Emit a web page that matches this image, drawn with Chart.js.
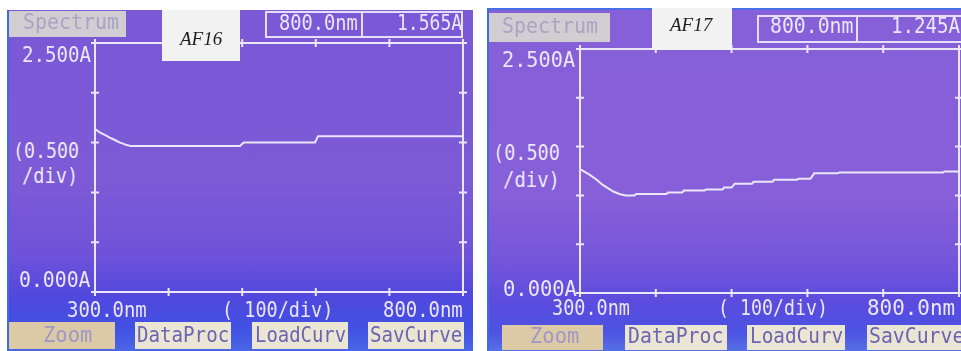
<!DOCTYPE html>
<html>
<head>
<meta charset="utf-8">
<script src="https://cdn.jsdelivr.net/npm/chart.js@4.4.1/dist/chart.umd.min.js"></script>
<style>
  html, body { margin: 0; padding: 0; background: #ffffff; width: 961px; height: 351px; overflow: hidden; position: relative; }
  .panel { position: absolute; box-sizing: border-box; border-left: 2px solid #3f6ae6; }
  #p1 { left: 7px; top: 10px; width: 466px; height: 341px;
        background: linear-gradient(180deg, #7a58d6 0%, #7d5ad6 50%, #6f52d9 72%, #5148de 84%, #4150e2 93%, #4a66e6 100%); }
  #p2 { left: 487px; top: 8px; width: 474px; height: 343px; border-top: 2px solid #4a6ee6;
        background: linear-gradient(180deg, #8660d8 0%, #875fd8 55%, #7455da 74%, #5a4cde 86%, #4c52e2 94%, #5570e6 100%); }
  .box { position: absolute; box-sizing: border-box; }
  .t { position: absolute; white-space: nowrap; font-family: "DejaVu Sans Mono", monospace;
       font-size: 22px; line-height: 22px; color: #ece6fa; transform-origin: 0 0; }
  .tag { position: absolute; white-space: nowrap; font-family: "Liberation Serif", serif; font-style: italic;
         font-size: 19px; line-height: 19px; color: #1e1e1e; }
  .gray { color: #aaa3c2; }
  .btn { color: #6a64b2; }
  .zoomtxt { color: #a096c8; }
  canvas { position: absolute; }
</style>
</head>
<body>
<div class="panel" id="p1"></div>
<div class="panel" id="p2"></div>

<canvas id="c1" width="388" height="269" style="left:85px;top:33px;"></canvas>
<canvas id="c2" width="401" height="264" style="left:570px;top:39px;"></canvas>

<!-- left screen: AF16 -->
<div class="box" style="left:9px;top:11px;width:117px;height:26px;background:#d2cdd3;"></div>
<div class="t gray" style="left:23px;top:10.7px;transform:scaleX(0.906);">Spectrum</div>
<div class="box" style="left:162px;top:10px;width:78px;height:51px;background:#f2f2f2;"></div>
<div class="tag" style="left:180px;top:28.7px;">AF16</div>
<div class="box" style="left:265px;top:11px;width:198px;height:27px;border:2px solid #e4def6;"></div>
<div class="box" style="left:361px;top:11px;width:2px;height:27px;background:#e4def6;"></div>
<div class="t" style="left:279px;top:12.4px;transform:scaleX(0.85);">800.0nm</div>
<div class="t" style="left:397px;top:12.4px;transform:scaleX(0.82);">1.565A</div>
<div class="t" style="left:22px;top:44.4px;transform:scaleX(0.87);">2.500A</div>
<div class="t" style="left:13px;top:140.4px;transform:scaleX(0.83);">(0.500</div>
<div class="t" style="left:22px;top:165.4px;transform:scaleX(0.85);">/div)</div>
<div class="t" style="left:19px;top:269.4px;transform:scaleX(0.9);">0.000A</div>
<div class="t" style="left:67px;top:299.4px;transform:scaleX(0.86);">300.0nm</div>
<div class="t" style="left:222px;top:299.4px;transform:scaleX(0.84);">( 100/div)</div>
<div class="t" style="left:383px;top:299.4px;transform:scaleX(0.86);">800.0nm</div>
<div class="box" style="left:9px;top:322px;width:106px;height:27px;background:#dccaa6;"></div>
<div class="t zoomtxt" style="left:43px;top:324.4px;transform:scaleX(0.93);">Zoom</div>
<div class="box" style="left:135px;top:322px;width:96px;height:27px;background:#ebe6d3;"></div>
<div class="t btn" style="left:137px;top:324.4px;transform:scaleX(0.87);">DataProc</div>
<div class="box" style="left:252px;top:322px;width:96px;height:27px;background:#ebe6d3;"></div>
<div class="t btn" style="left:255px;top:324.4px;transform:scaleX(0.86);">LoadCurv</div>
<div class="box" style="left:368px;top:322px;width:96px;height:27px;background:#ebe6d3;"></div>
<div class="t btn" style="left:370px;top:324.4px;transform:scaleX(0.87);">SavCurve</div>

<!-- right screen: AF17 -->
<div class="box" style="left:489px;top:13px;width:121px;height:29px;background:#d2cdd3;"></div>
<div class="t gray" style="left:502px;top:15.4px;transform:scaleX(0.906);">Spectrum</div>
<div class="box" style="left:652px;top:8px;width:80px;height:42px;background:#f2f2f2;"></div>
<div class="tag" style="left:670px;top:14.7px;">AF17</div>
<div class="box" style="left:757px;top:15px;width:214px;height:28px;border:2px solid #e4def6;"></div>
<div class="box" style="left:856px;top:15px;width:2px;height:28px;background:#e4def6;"></div>
<div class="t" style="left:770px;top:15.4px;transform:scaleX(0.9);">800.0nm</div>
<div class="t" style="left:891px;top:15.4px;transform:scaleX(0.87);">1.245A</div>
<div class="t" style="left:502px;top:49.4px;transform:scaleX(0.92);">2.500A</div>
<div class="t" style="left:493px;top:142.4px;transform:scaleX(0.84);">(0.500</div>
<div class="t" style="left:503px;top:169.4px;transform:scaleX(0.86);">/div)</div>
<div class="t" style="left:503px;top:278.4px;transform:scaleX(0.93);">0.000A</div>
<div class="t" style="left:552px;top:297.4px;transform:scaleX(0.84);">300.0nm</div>
<div class="t" style="left:718px;top:297.4px;transform:scaleX(0.83);">( 100/div)</div>
<div class="t" style="left:867px;top:297.4px;transform:scaleX(0.95);">800.0nm</div>
<div class="box" style="left:502px;top:325px;width:101px;height:25px;background:#dccaa6;"></div>
<div class="t zoomtxt" style="left:530px;top:325.4px;transform:scaleX(0.93);">Zoom</div>
<div class="box" style="left:625px;top:325px;width:102px;height:25px;background:#ebe6d3;"></div>
<div class="t btn" style="left:628px;top:325.4px;transform:scaleX(0.9);">DataProc</div>
<div class="box" style="left:747px;top:325px;width:98px;height:25px;background:#ebe6d3;"></div>
<div class="t btn" style="left:750px;top:325.4px;transform:scaleX(0.88);">LoadCurv</div>
<div class="box" style="left:867px;top:325px;width:100px;height:25px;background:#ebe6d3;"></div>
<div class="t btn" style="left:869px;top:325.4px;transform:scaleX(0.9);">SavCurve</div>

<script>
// Scan range and division marks (nm, absorbance)
const wavelengthTicks = [300, 400, 500, 600, 700, 800];
const absorbanceTicks = [0, 0.5, 1.0, 1.5, 2.0, 2.5];

// AF16 spectrum
const af16Wavelength = [300, 307, 314, 320, 327, 334, 338, 343, 348, 497, 502, 599, 603, 800];
const af16Absorbance = [1.637, 1.600, 1.576, 1.550, 1.526, 1.500, 1.490, 1.475, 1.466, 1.466, 1.500, 1.500, 1.565, 1.565];

// AF17 spectrum
const af17Wavelength = [300, 313, 322, 330, 344, 352, 360, 372, 374, 414, 416, 435, 437, 464, 466, 488, 490, 500, 504, 527, 529, 554, 556, 586, 588, 604, 609, 640, 642, 779, 781, 800];
const af17Absorbance = [1.270, 1.210, 1.160, 1.107, 1.040, 1.015, 1.000, 1.000, 1.015, 1.015, 1.030, 1.030, 1.050, 1.050, 1.060, 1.060, 1.080, 1.080, 1.120, 1.120, 1.140, 1.140, 1.160, 1.160, 1.170, 1.170, 1.226, 1.226, 1.235, 1.235, 1.245, 1.245];

const ink = '#ece6fa';

// Draws the boxed plot frame with cross-shaped division marks on all four sides
const screenFrame = {
  id: 'screenFrame',
  afterDatasetsDraw(chart) {
    const { ctx, scales: { x, y } } = chart;
    const l = x.getPixelForValue(wavelengthTicks[0]);
    const r = x.getPixelForValue(wavelengthTicks[wavelengthTicks.length - 1]);
    const t = y.getPixelForValue(absorbanceTicks[absorbanceTicks.length - 1]);
    const b = y.getPixelForValue(absorbanceTicks[0]);
    ctx.save();
    ctx.strokeStyle = ink;
    ctx.lineWidth = 2;
    ctx.strokeRect(l, t, r - l, b - t);
    ctx.beginPath();
    wavelengthTicks.forEach(v => {
      const px = x.getPixelForValue(v);
      ctx.moveTo(px, b - 4); ctx.lineTo(px, b + 4);
      ctx.moveTo(px, t - 4); ctx.lineTo(px, t + 4);
    });
    absorbanceTicks.forEach(v => {
      const py = y.getPixelForValue(v);
      ctx.moveTo(l - 4, py); ctx.lineTo(l + 4, py);
      ctx.moveTo(r - 4, py); ctx.lineTo(r + 4, py);
    });
    ctx.stroke();
    ctx.restore();
  }
};

function spectrumChart(id, wl, ab, padding) {
  return new Chart(document.getElementById(id), {
    type: 'line',
    data: {
      datasets: [{
        data: wl.map((w, i) => ({ x: w, y: ab[i] })),
        borderColor: ink,
        borderWidth: 2,
        pointRadius: 0,
        tension: 0,
        fill: false
      }]
    },
    options: {
      responsive: false,
      animation: false,
      devicePixelRatio: 1,
      layout: { padding },
      plugins: { legend: { display: false }, tooltip: { enabled: false } },
      scales: {
        x: { type: 'linear', min: wavelengthTicks[0], max: wavelengthTicks[wavelengthTicks.length - 1], display: false },
        y: { type: 'linear', min: absorbanceTicks[0], max: absorbanceTicks[absorbanceTicks.length - 1], display: false }
      }
    },
    plugins: [screenFrame]
  });
}

spectrumChart('c1', af16Wavelength, af16Absorbance, { left: 10, top: 10, right: 10, bottom: 10 });
spectrumChart('c2', af17Wavelength, af17Absorbance, { left: 10, top: 10, right: 12, bottom: 10 });
</script>
</body>
</html>
